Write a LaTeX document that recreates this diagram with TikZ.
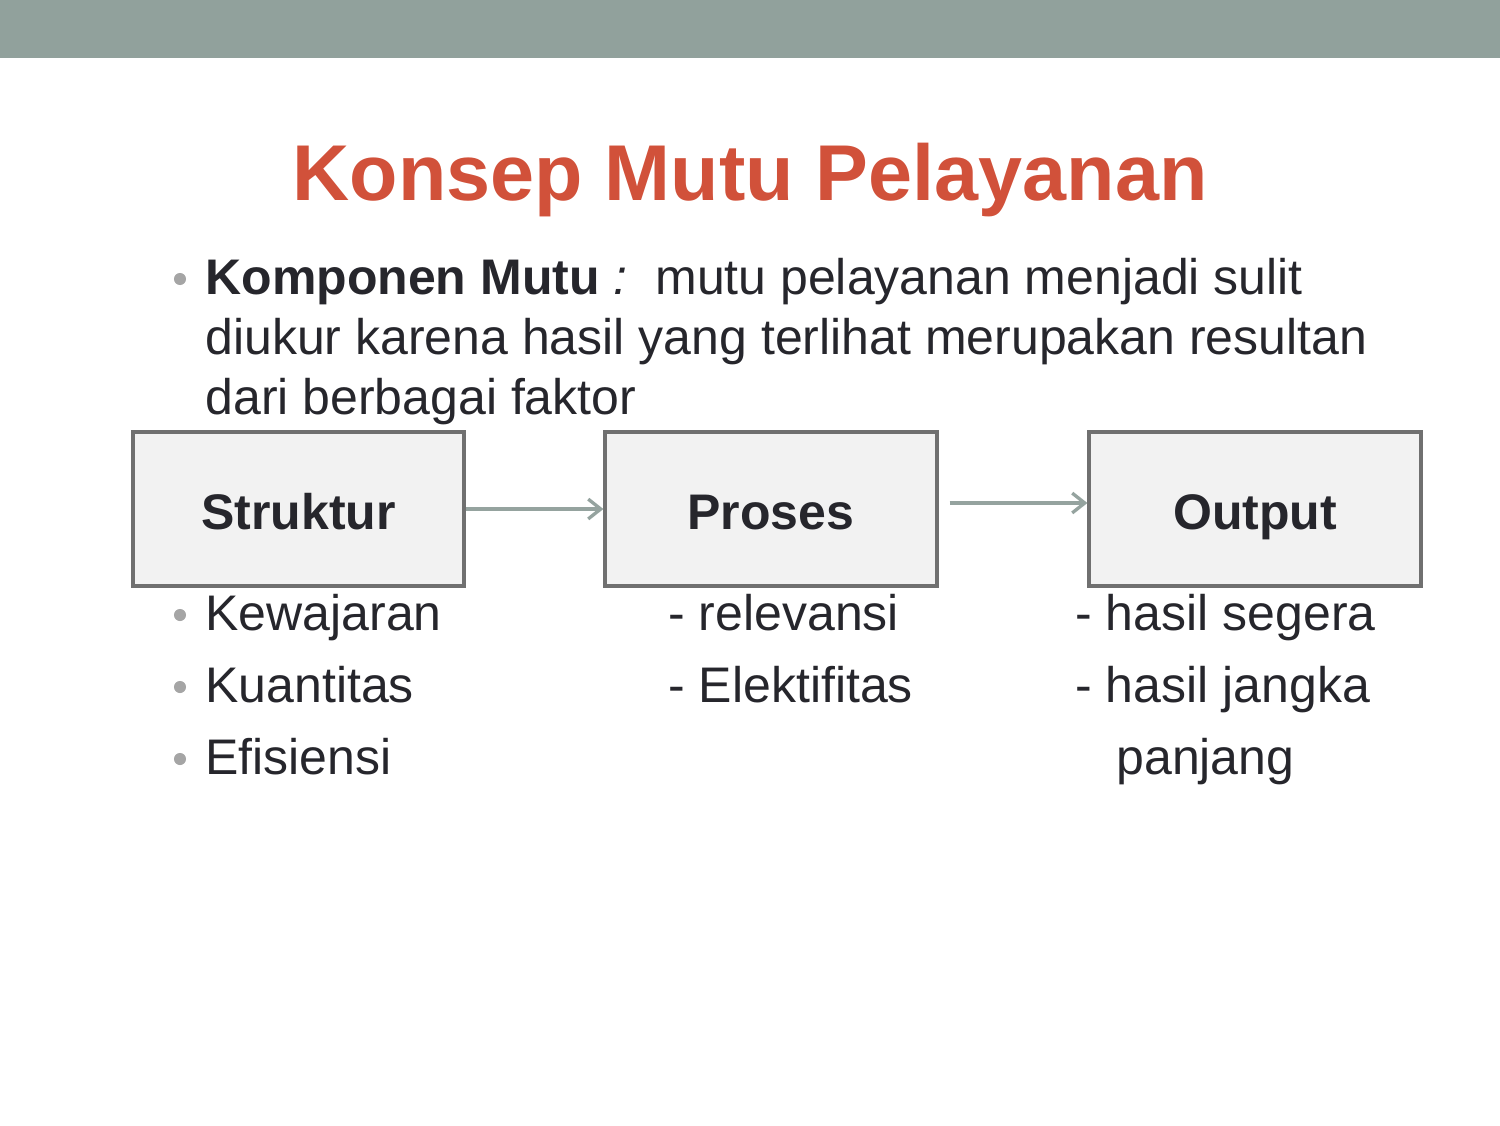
\documentclass[tikz,border=0pt]{standalone}
\usepackage{fontspec}
\setmainfont{Liberation Sans}
\usetikzlibrary{arrows.meta}

\definecolor{bar}{RGB}{145,161,156}
\definecolor{titlered}{RGB}{209,81,58}
\definecolor{ink}{RGB}{38,38,44}
\definecolor{boxline}{RGB}{112,112,112}
\definecolor{boxfill}{RGB}{242,242,242}
\definecolor{flowline}{RGB}{149,163,159}
\definecolor{dotgray}{RGB}{165,165,165}

\begin{document}
\begin{tikzpicture}[x=0.48pt, y=-0.48pt,
  txt/.style={anchor=base west, inner sep=0pt, text=ink, font=\fontsize{24}{28.8}\selectfont},
  box/.style={draw=boxline, line width=1.9pt, fill=boxfill, minimum width=159pt, minimum height=74pt,
    inner sep=0pt, text height=22pt, text depth=2pt, text=ink, font=\fontsize{24}{28.8}\selectfont\bfseries},
  flow/.style={draw=flowline, line width=1.6pt, -{Straight Barb[length=6pt, width=9.5pt]}}
]
\useasboundingbox (0,0) rectangle (1500,1125);
\fill[bar] (0,0) rectangle (1500,58);

\node[anchor=base, inner sep=0pt, text=titlered, font=\fontsize{38}{44}\selectfont\bfseries] (title) at (750,200) {Konsep Mutu Pelayanan};

% bullet text
\node[txt] (komp) at (205,294) {\textbf{Komponen Mutu} \textit{:}\ \ mutu pelayanan menjadi sulit};
\node[txt] (diukur) at (205,354) {diukur karena hasil yang terlihat merupakan resultan};
\node[txt] (dari) at (205,414) {dari berbagai faktor};

% boxes
\node[box] (struktur) at (298.5,509) {Struktur};
\node[box] (proses) at (771,509) {Proses};
\node[box] (output) at (1255,509) {Output};

\draw[flow] (struktur.east) -- (proses.west);
\draw[flow] ([shift={(11,-6)}]proses.east) -- ([shift={(0,-6)}]output.west);

% lists under the boxes
\node[txt] (kew) at (205,630) {Kewajaran};
\node[txt] (kuan) at (205,702) {Kuantitas};
\node[txt] (efi) at (205,774) {Efisiensi};
\node[txt] (rel) at (668,630) {- relevansi};
\node[txt] (elek) at (668,702) {- Elektifitas};
\node[txt] (segera) at (1075,630) {- hasil segera};
\node[txt] (jangka) at (1075,702) {- hasil jangka};
\node[txt] (panjang) at (1116,774) {panjang};

\foreach \n in {komp, kew, kuan, efi}
  \fill[dotgray] ([shift={(-25,-15)}]\n.base west) circle[radius=2.9pt];

\end{tikzpicture}
\end{document}
